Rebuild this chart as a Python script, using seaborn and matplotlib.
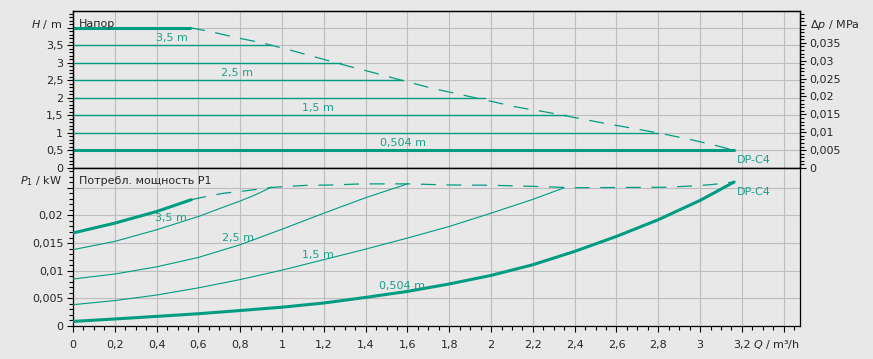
import numpy as np
import pandas as pd
import matplotlib
matplotlib.use("Agg")
import matplotlib.pyplot as plt
import matplotlib.transforms as mtransforms
from matplotlib.ticker import MultipleLocator, FuncFormatter
import seaborn as sns

# --- head chart: H / m over Q / m3/h ---
q_head_max = [0, 0.56, 0.65, 0.78, 0.91, 1.04, 1.18, 1.32, 1.45, 1.585, 1.72,
              1.85, 1.98, 2.12, 2.25, 2.39, 2.52, 2.66, 2.80, 2.94, 3.07, 3.163]
h_head_max = [4.0, 4.0, 3.90, 3.72, 3.56, 3.36, 3.13, 2.90, 2.70, 2.48, 2.27,
              2.10, 1.93, 1.74, 1.61, 1.45, 1.30, 1.15, 1.00, 0.83, 0.65, 0.504]
setting_heads = [0.504, 1.0, 1.5, 2.0, 2.5, 3.0, 3.5]
setting_end_q = [3.163, 2.80, 2.36, 1.97, 1.58, 1.28, 0.95]

# --- power chart: P1 / kW over Q / m3/h ---
q_p_max = [0, 0.2, 0.4, 0.566, 0.64, 0.72, 0.83, 0.95, 1.11, 1.24, 1.38, 1.6,
           1.8, 2.0, 2.2, 2.4, 2.85, 2.95, 3.05, 3.163]
p_max = [0.01682, 0.0186, 0.0207, 0.02284, 0.02344, 0.0240, 0.02447, 0.02506,
         0.02542, 0.0255, 0.0257, 0.0257, 0.0255, 0.02545, 0.02525, 0.0250,
         0.0251, 0.0253, 0.02555, 0.02604]
q_p35 = [0, 0.2, 0.4, 0.6, 0.72, 0.8, 0.877, 0.949]
p_p35 = [0.0138, 0.0153, 0.0174, 0.0198, 0.0215, 0.0226, 0.0238, 0.0251]
q_p25 = [0, 0.2, 0.4, 0.6, 0.8, 1.0, 1.2, 1.4, 1.6]
p_p25 = [0.0085, 0.0094, 0.0107, 0.0124, 0.0147, 0.0175, 0.0204, 0.0232, 0.0257]
q_p15 = [0, 0.2, 0.4, 0.6, 0.8, 1.0, 1.2, 1.4, 1.6, 1.8, 2.0, 2.2, 2.35]
p_p15 = [0.00385, 0.0046, 0.0056, 0.0069, 0.0084, 0.0101, 0.0120, 0.0139,
         0.0159, 0.0180, 0.0204, 0.0229, 0.0250]
q_p0504 = [0, 0.2, 0.4, 0.6, 0.8, 1.0, 1.2, 1.4, 1.6, 1.8, 2.0, 2.2, 2.4, 2.6,
           2.8, 3.0, 3.08, 3.163]
p_p0504 = [0.00083, 0.00127, 0.00174, 0.00222, 0.0028, 0.0034, 0.00416, 0.00517,
           0.00626, 0.0076, 0.00915, 0.01108, 0.01349, 0.0162, 0.01922, 0.02271,
           0.02434, 0.02604]

curve_labels = ["3,5 m", "2,5 m", "1,5 m", "0,504 m", "DP-C4"]

GREEN = "#009c82"
LABEL_GREEN = "#1ca08a"
BG = "#e8e8e8"
DASH = (0, (12, 8.5))

sns.set_style("whitegrid", rc={"axes.facecolor": BG, "figure.facecolor": BG,
                               "grid.color": "#bdbdbd", "axes.edgecolor": "black"})
plt.rcParams["font.family"] = ["DejaVu Sans"]
plt.rcParams["font.size"] = 8


def comma(v, pos, skip=()):
    for s in skip:
        if abs(v - s) < 1e-9:
            return ""
    return f"{v:.4g}".replace(".", ",")


def line(ax, q, y, lw, dashed=False):
    df = pd.DataFrame({"Q": q, "Y": y})
    kw = {"linestyle": DASH} if dashed else {}
    sns.lineplot(data=df, x="Q", y="Y", ax=ax, color=GREEN, lw=lw,
                 sort=False, estimator=None, zorder=3, **kw)


fig = plt.figure(figsize=(8.73, 3.59), dpi=100)
ax_h = fig.add_axes([0.08362, 0.53203, 0.83276, 0.43733])
ax_p = fig.add_axes([0.08362, 0.09192, 0.83276, 0.44011], sharex=ax_h)

XMAX = 3.478
H_TOP = 4.477
P_TOP = 0.02857

# ---------- head panel ----------
line(ax_h, q_head_max[:2], h_head_max[:2], 2.2)
line(ax_h, q_head_max[1:], h_head_max[1:], 0.9, dashed=True)
for h, qe in zip(setting_heads, setting_end_q):
    line(ax_h, [0, qe], [h, h], 2.2 if h == setting_heads[0] else 1.0)

ax_h.set_xlim(0, XMAX)
ax_h.set_ylim(0, H_TOP)
ax_h.yaxis.set_major_locator(MultipleLocator(0.5))
ax_h.yaxis.set_minor_locator(MultipleLocator(0.1))
ax_h.yaxis.set_major_formatter(FuncFormatter(lambda v, p: comma(v, p, skip=(4.0,))))
ax_h.tick_params(axis="x", which="both", length=0, labelbottom=False)

# Δp axis on the right
ax_dp = ax_h.twinx()
ax_dp.set_ylim(0, H_TOP * 0.009807)
ax_dp.grid(False)
ax_dp.yaxis.set_major_locator(MultipleLocator(0.005))
ax_dp.yaxis.set_minor_locator(MultipleLocator(0.001))
ax_dp.yaxis.set_major_formatter(FuncFormatter(lambda v, p: comma(v, p, skip=(0.04,))))

ax_h.text(0.472, 3.70, curve_labels[0], color=LABEL_GREEN, ha="center", va="center")
ax_h.text(0.786, 2.72, curve_labels[1], color=LABEL_GREEN, ha="center", va="center")
ax_h.text(1.172, 1.70, curve_labels[2], color=LABEL_GREEN, ha="center", va="center")
ax_h.text(1.577, 0.70, curve_labels[3], color=LABEL_GREEN, ha="center", va="center")
ax_h.text(3.175, 0.23, curve_labels[4], color=LABEL_GREEN, ha="left", va="center")

tr_h = mtransforms.blended_transform_factory(ax_h.transAxes, ax_h.transData)
ax_h.text(-0.0147, 4.1, r"$H$ / m", transform=tr_h, ha="right", va="center")
ax_h.text(0.0087, 4.1, "Напор", transform=tr_h, ha="left", va="center")
tr_dp = mtransforms.blended_transform_factory(ax_dp.transAxes, ax_dp.transData)
ax_dp.text(1.0138, 0.0401, r"$\mathit{\Delta p}$ / MPa", transform=tr_dp,
           ha="left", va="center")

# ---------- power panel ----------
line(ax_p, q_p_max[:4], p_max[:4], 2.2)
line(ax_p, q_p_max[3:], p_max[3:], 0.9, dashed=True)
line(ax_p, q_p35, p_p35, 0.8)
line(ax_p, q_p25, p_p25, 0.8)
line(ax_p, q_p15, p_p15, 0.8)
line(ax_p, q_p0504, p_p0504, 2.2)

ax_p.set_ylim(0, P_TOP)
ax_p.yaxis.set_major_locator(MultipleLocator(0.005))
ax_p.yaxis.set_minor_locator(MultipleLocator(0.001))
ax_p.yaxis.set_major_formatter(FuncFormatter(lambda v, p: comma(v, p, skip=(0.025,))))
ax_p.xaxis.set_major_locator(MultipleLocator(0.2))
ax_p.xaxis.set_minor_locator(MultipleLocator(0.05))
ax_p.xaxis.set_major_formatter(FuncFormatter(lambda v, p: comma(v, p, skip=(3.4,))))

ax_p.text(0.47, 0.0195, curve_labels[0], color=LABEL_GREEN, ha="center", va="center")
ax_p.text(0.79, 0.0160, curve_labels[1], color=LABEL_GREEN, ha="center", va="center")
ax_p.text(1.172, 0.01275, curve_labels[2], color=LABEL_GREEN, ha="center", va="center")
ax_p.text(1.574, 0.00723, curve_labels[3], color=LABEL_GREEN, ha="center", va="center")
ax_p.text(3.175, 0.02428, curve_labels[4], color=LABEL_GREEN, ha="left", va="center")

tr_p = mtransforms.blended_transform_factory(ax_p.transAxes, ax_p.transData)
ax_p.text(-0.0147, 0.02627, r"$P_1$ / kW", transform=tr_p, ha="right", va="center")
ax_p.text(0.0087, 0.02627, "Потребл. мощность P1", transform=tr_p, ha="left", va="center")
ax_p.text(1.0, -0.12, r"$Q$ / m³/h", transform=ax_p.transAxes, ha="right", va="center")

# ---------- common styling ----------
for ax in (ax_h, ax_p):
    ax.set_xlabel("")
    ax.set_ylabel("")
    ax.grid(True, which="major", color="#bdbdbd", lw=0.8, zorder=0)
    ax.grid(False, which="minor")
    ax.set_axisbelow(True)
    for s in ax.spines.values():
        s.set_color("black")
        s.set_linewidth(0.9)
    ax.tick_params(axis="y", which="major", direction="out", length=4.5, width=0.8,
                   color="black", labelsize=8, pad=2.5, left=True, right=False)
    ax.tick_params(axis="y", which="minor", direction="out", length=3, width=0.8,
                   color="black", left=True, right=False)
ax_dp.set_ylabel("")
ax_dp.tick_params(axis="y", which="major", direction="out", length=4.5, width=0.8,
                  color="black", labelsize=8, pad=2.5, right=True, left=False)
ax_dp.tick_params(axis="y", which="minor", direction="out", length=3, width=0.8,
                  color="black", right=True, left=False)
for s in ax_dp.spines.values():
    s.set_color("black")
    s.set_linewidth(0.9)
ax_p.tick_params(axis="x", which="major", direction="out", length=4, width=0.8,
                 color="black", labelsize=8, pad=6, bottom=True)
ax_p.tick_params(axis="x", which="minor", direction="out", length=3, width=0.8,
                 color="black", bottom=True)

fig.savefig("out.png", dpi=100, facecolor=BG)
